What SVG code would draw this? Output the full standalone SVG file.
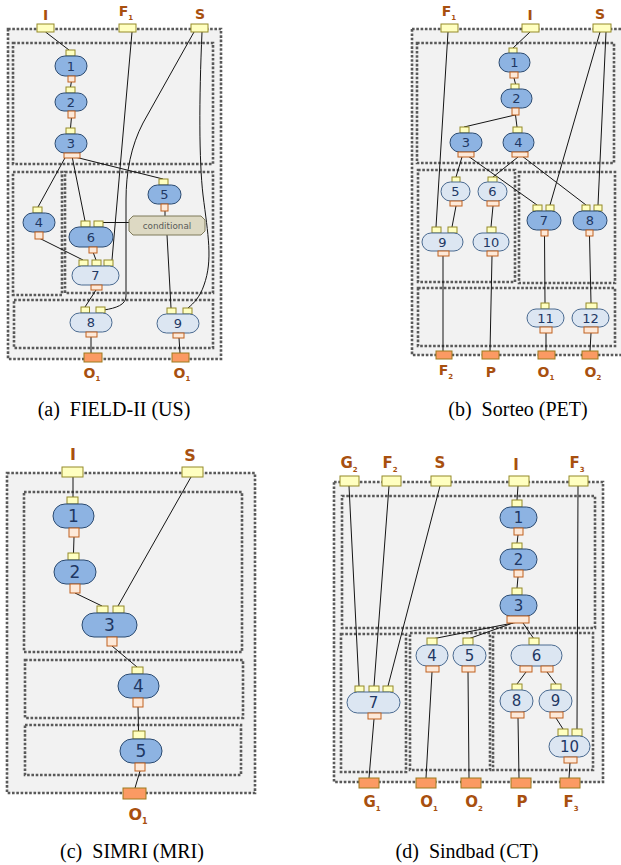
<svg xmlns="http://www.w3.org/2000/svg" width="621" height="865" viewBox="0 0 621 865">
<style>
.box{fill:#f2f2f2;stroke:#595959;stroke-width:2.6;stroke-dasharray:2.6 1.7}
.dk{fill:#8db3e2;stroke:#2b4a70;stroke-width:1}
.lt{fill:#dce6f2;stroke:#4a6a90;stroke-width:1}
.ip{fill:#ffffc0;stroke:#948a28;stroke-width:1}
.op{fill:#fde9d9;stroke:#c0601f;stroke-width:1}
.fo{fill:#fb9a63;stroke:#9c7a1e;stroke-width:1}
.cond{fill:#ddd9c3;stroke:#7f7a5a;stroke-width:1}
.n{font-family:"DejaVu Sans",sans-serif;fill:#1f3864;text-anchor:middle}
.a{font-size:13px}.c{font-size:17px}.d{font-size:15px}
.lb{font-family:"DejaVu Sans",sans-serif;font-weight:bold;fill:#a8500f;text-anchor:middle}
.la{font-size:14px}.lc{font-size:16px}.ld{font-size:15px}
.sub{font-size:7px}.subc{font-size:8px}
.cap{font-family:"Liberation Serif",serif;font-size:20px;fill:#000;text-anchor:middle}
.ln line,.ln path{stroke:#151515;stroke-width:1;fill:none}
</style>

<!-- Panel (a) boxes -->
<g id="a-boxes">
<rect class="box" x="8" y="29" width="213" height="330"/>
<rect class="box" x="13" y="43" width="200" height="121"/>
<rect class="box" x="13" y="172" width="49" height="123"/>
<rect class="box" x="65" y="172" width="148" height="121"/>
<rect class="box" x="14" y="300" width="199" height="48"/>
</g>
<!-- Panel (b) boxes -->
<g id="b-boxes">
<rect class="box" x="412" y="29" width="215" height="326"/>
<rect class="box" x="417" y="43" width="197" height="120"/>
<rect class="box" x="418" y="170" width="97" height="112"/>
<rect class="box" x="519" y="172" width="96" height="111"/>
<rect class="box" x="418" y="288" width="197" height="58"/>
</g>
<!-- Panel (c) boxes -->
<g id="c-boxes">
<rect class="box" x="7" y="473" width="248" height="320"/>
<rect class="box" x="24" y="492" width="218" height="160"/>
<rect class="box" x="25" y="660" width="218" height="58"/>
<rect class="box" x="25" y="725" width="216" height="50"/>
</g>
<!-- Panel (d) boxes -->
<g id="d-boxes">
<rect class="box" x="334" y="482" width="269" height="300"/>
<rect class="box" x="342" y="496" width="253" height="132"/>
<rect class="box" x="341" y="634" width="65" height="138"/>
<rect class="box" x="410" y="633" width="80" height="137"/>
<rect class="box" x="493" y="633" width="100" height="137"/>
</g>

<!-- Connectors -->
<g id="connectors" class="ln">
<!-- a -->
<line x1="45.5" y1="32" x2="69" y2="50"/>
<line x1="71.5" y1="81" x2="70.5" y2="87"/>
<line x1="71.5" y1="117" x2="70.5" y2="128"/>
<line x1="71" y1="156" x2="163" y2="179"/>
<line x1="66" y1="156" x2="38" y2="207"/>
<line x1="72" y1="156" x2="85" y2="221"/>
<line x1="39" y1="238" x2="83" y2="260"/>
<line x1="93" y1="252" x2="96" y2="260"/>
<line x1="132" y1="32" x2="112" y2="260"/>
<path d="M194,32 L143,123 C131,146 126,172 126,200 L126,296 C126,305 116,308 104,310"/>
<path d="M202,32 C199,100 199,160 203,195 C208,235 213,260 204,285 C200,297 194,303 188,308"/>
<line x1="103" y1="222.5" x2="129" y2="222.5"/>
<line x1="165" y1="210" x2="165" y2="216"/>
<line x1="167" y1="235" x2="171" y2="308"/>
<line x1="96" y1="290" x2="85" y2="307"/>
<line x1="91" y1="337" x2="91" y2="353"/>
<line x1="179" y1="338" x2="180" y2="353"/>
<!-- b -->
<line x1="530" y1="32" x2="513" y2="48"/>
<line x1="514" y1="78" x2="515.5" y2="84"/>
<line x1="515" y1="115" x2="464" y2="127"/>
<line x1="515.5" y1="115" x2="517" y2="127"/>
<line x1="462" y1="157" x2="456" y2="177"/>
<line x1="468" y1="156" x2="537" y2="205"/>
<line x1="518" y1="157" x2="493" y2="177"/>
<line x1="522" y1="156" x2="586" y2="205"/>
<line x1="600" y1="32" x2="550" y2="205"/>
<line x1="606" y1="32" x2="598" y2="205"/>
<line x1="448" y1="32" x2="436" y2="227"/>
<line x1="456" y1="206" x2="452" y2="227"/>
<line x1="493" y1="206" x2="491" y2="227"/>
<line x1="443" y1="256" x2="443" y2="351"/>
<line x1="492" y1="256" x2="490" y2="351"/>
<line x1="544.5" y1="236" x2="545" y2="303"/>
<line x1="589.5" y1="236" x2="591" y2="303"/>
<line x1="546" y1="333" x2="546" y2="351"/>
<line x1="591" y1="333" x2="590" y2="351"/>
<!-- c -->
<line x1="73" y1="477" x2="73" y2="497"/>
<line x1="74" y1="537" x2="73.5" y2="553"/>
<line x1="75" y1="593" x2="102" y2="606"/>
<line x1="191" y1="477" x2="118" y2="606"/>
<line x1="112" y1="646" x2="137" y2="667"/>
<line x1="138" y1="707" x2="138.5" y2="731"/>
<line x1="140" y1="771" x2="135" y2="788"/>
<!-- d -->
<line x1="349" y1="486" x2="359" y2="686"/>
<line x1="389" y1="486" x2="374" y2="686"/>
<line x1="440" y1="486" x2="388" y2="686"/>
<line x1="518" y1="486" x2="517" y2="500"/>
<line x1="518" y1="535" x2="517" y2="543"/>
<line x1="518" y1="577" x2="517" y2="588"/>
<line x1="518" y1="622" x2="432" y2="639"/>
<line x1="513" y1="623" x2="468" y2="639"/>
<line x1="523" y1="623" x2="534" y2="639"/>
<line x1="578" y1="486" x2="577" y2="729"/>
<line x1="526" y1="672" x2="517" y2="684"/>
<line x1="547" y1="672" x2="556" y2="684"/>
<line x1="556" y1="718" x2="563" y2="729"/>
<line x1="374" y1="719" x2="369" y2="778"/>
<line x1="432" y1="672" x2="426" y2="778"/>
<line x1="468" y1="672" x2="469" y2="778"/>
<line x1="518" y1="718" x2="519" y2="778"/>
<line x1="570" y1="763" x2="569" y2="778"/>
</g>

<!-- ===== Panel (a) nodes ===== -->
<g id="a-in-I"><rect class="ip" x="37" y="24" width="17" height="8"/><text class="lb la" x="45.5" y="20">I</text></g>
<g id="a-in-F1"><rect class="ip" x="119" y="24" width="17" height="8"/><text class="lb la" x="126" y="16">F<tspan class="sub" dy="4">1</tspan></text></g>
<g id="a-in-S"><rect class="ip" x="191" y="24" width="17" height="8"/><text class="lb la" x="200" y="19">S</text></g>
<g id="a-1"><rect class="ip" x="66" y="50" width="9" height="6"/><rect class="dk" x="55" y="56" width="32" height="20" rx="10"/><rect class="op" x="68" y="76" width="7" height="6"/><text class="n a" x="71" y="70.7">1</text></g>
<g id="a-2"><rect class="ip" x="66" y="87" width="9" height="6"/><rect class="dk" x="55" y="93" width="32" height="18" rx="9"/><rect class="op" x="68" y="111" width="7" height="7"/><text class="n a" x="71" y="106.7">2</text></g>
<g id="a-3"><rect class="ip" x="66" y="128" width="9" height="6"/><rect class="dk" x="55" y="134" width="32" height="19" rx="9.5"/><rect class="op" x="64" y="153" width="16" height="5"/><text class="n a" x="71" y="148.2">3</text></g>
<g id="a-5"><rect class="ip" x="159" y="179" width="9" height="6"/><rect class="dk" x="148" y="185" width="33" height="19" rx="9.5"/><rect class="op" x="161" y="204" width="7" height="7"/><text class="n a" x="164.5" y="199.2">5</text></g>
<g id="a-4"><rect class="ip" x="33" y="207" width="9" height="6"/><rect class="dk" x="23" y="213" width="32" height="19" rx="9.5"/><rect class="op" x="35" y="232" width="8" height="7"/><text class="n a" x="39" y="227.2">4</text></g>
<g id="a-6"><rect class="ip" x="81" y="221" width="9" height="6"/><rect class="ip" x="94" y="221" width="9" height="6"/><rect class="dk" x="69" y="227" width="44" height="20" rx="10"/><rect class="op" x="89" y="247" width="8" height="6"/><text class="n a" x="91" y="241.7">6</text></g>
<g id="a-cond"><polygon class="cond" points="133,216 201,216 205,220 205,231 201,235 133,235 129,231 129,220"/><text x="167" y="228.8" font-family="DejaVu Sans,sans-serif" font-size="8.8" fill="#595959" text-anchor="middle">conditional</text></g>
<g id="a-7"><rect class="ip" x="79" y="260" width="9" height="6"/><rect class="ip" x="92" y="260" width="9" height="6"/><rect class="ip" x="104" y="260" width="9" height="6"/><rect class="lt" x="72" y="266" width="47" height="19" rx="9.5"/><rect class="op" x="91" y="285" width="11" height="5"/><text class="n a" x="95.5" y="280.2">7</text></g>
<g id="a-8"><rect class="ip" x="81" y="307" width="8.5" height="6"/><rect class="ip" x="96" y="307" width="9" height="6"/><rect class="lt" x="70" y="313" width="42" height="19" rx="9.5"/><rect class="op" x="86" y="332" width="11" height="5"/><text class="n a" x="91" y="327.2">8</text></g>
<g id="a-9"><rect class="ip" x="167" y="308" width="9" height="6"/><rect class="ip" x="183" y="308" width="9" height="6"/><rect class="lt" x="157" y="314" width="42" height="19" rx="9.5"/><rect class="op" x="173" y="333" width="11" height="5"/><text class="n a" x="178" y="328.2">9</text></g>
<g id="a-out-O1a"><rect class="fo" x="84" y="353" width="18" height="9"/><text class="lb la" x="92" y="378">O<tspan class="sub" dy="3">1</tspan></text></g>
<g id="a-out-O1b"><rect class="fo" x="172" y="353" width="17" height="9"/><text class="lb la" x="182" y="378">O<tspan class="sub" dy="3">1</tspan></text></g>
<text class="cap" x="114" y="416" xml:space="preserve">(a)  FIELD-II (US)</text>

<!-- ===== Panel (b) nodes ===== -->
<g id="b-in-F1"><rect class="ip" x="441" y="24" width="17" height="8"/><text class="lb la" x="449" y="16">F<tspan class="sub" dy="4">1</tspan></text></g>
<g id="b-in-I"><rect class="ip" x="522" y="24" width="17" height="8"/><text class="lb la" x="530" y="20">I</text></g>
<g id="b-in-S"><rect class="ip" x="593" y="24" width="18" height="8"/><text class="lb la" x="600" y="19">S</text></g>
<g id="b-1"><rect class="ip" x="509" y="48" width="8" height="5.5"/><rect class="dk" x="499" y="53" width="31" height="19" rx="9.5"/><rect class="op" x="510" y="72" width="8" height="6"/><text class="n a" x="514.5" y="67.2">1</text></g>
<g id="b-2"><rect class="ip" x="511" y="84" width="8" height="6"/><rect class="dk" x="501" y="89" width="31" height="19" rx="9.5"/><rect class="op" x="512" y="108" width="7" height="7"/><text class="n a" x="516.5" y="103.2">2</text></g>
<g id="b-3"><rect class="ip" x="460" y="127" width="9" height="6"/><rect class="dk" x="450" y="133" width="32" height="19" rx="9.5"/><rect class="op" x="458" y="152" width="16" height="5"/><text class="n a" x="466" y="147.2">3</text></g>
<g id="b-4"><rect class="ip" x="513" y="127" width="9" height="6"/><rect class="dk" x="503" y="133" width="31" height="19" rx="9.5"/><rect class="op" x="512" y="152" width="16" height="5"/><text class="n a" x="518.5" y="147.2">4</text></g>
<g id="b-5"><rect class="ip" x="452" y="177" width="8" height="6"/><rect class="lt" x="441" y="182" width="29" height="19" rx="9.5"/><rect class="op" x="450" y="201" width="12" height="5"/><text class="n a" x="455.5" y="196.2">5</text></g>
<g id="b-6"><rect class="ip" x="488" y="177" width="9" height="6"/><rect class="lt" x="478" y="182" width="29" height="19" rx="9.5"/><rect class="op" x="487" y="201" width="12" height="5"/><text class="n a" x="492.5" y="196.2">6</text></g>
<g id="b-7"><rect class="ip" x="533" y="205" width="9" height="6"/><rect class="ip" x="546" y="205" width="8" height="6"/><rect class="dk" x="527" y="211" width="34" height="19" rx="9.5"/><rect class="op" x="541" y="230" width="7" height="6"/><text class="n a" x="544" y="225.2">7</text></g>
<g id="b-8"><rect class="ip" x="582" y="205" width="8" height="6"/><rect class="ip" x="594" y="205" width="8" height="6"/><rect class="dk" x="573" y="211" width="34" height="19" rx="9.5"/><rect class="op" x="586" y="230" width="7" height="6"/><text class="n a" x="590" y="225.2">8</text></g>
<g id="b-9"><rect class="ip" x="432" y="227" width="9" height="6"/><rect class="ip" x="448" y="227" width="9" height="6"/><rect class="lt" x="422" y="233" width="41" height="18" rx="9"/><rect class="op" x="438" y="251" width="11" height="5"/><text class="n a" x="442.5" y="246.7">9</text></g>
<g id="b-10"><rect class="ip" x="487" y="227" width="9" height="6"/><rect class="lt" x="473" y="233" width="36" height="18" rx="9"/><rect class="op" x="487" y="251" width="11" height="5"/><text class="n a" x="491" y="246.7">10</text></g>
<g id="b-11"><rect class="ip" x="541" y="303" width="8" height="6"/><rect class="lt" x="527" y="309" width="37" height="18" rx="9"/><rect class="op" x="540" y="327" width="12" height="6"/><text class="n a" x="545.5" y="322.7">11</text></g>
<g id="b-12"><rect class="ip" x="586" y="303" width="11" height="6"/><rect class="lt" x="572" y="309" width="37" height="18" rx="9"/><rect class="op" x="584" y="327" width="14" height="6"/><text class="n a" x="590.5" y="322.7">12</text></g>
<g id="b-out-F2"><rect class="fo" x="436" y="351" width="16" height="8"/><text class="lb la" x="446" y="375">F<tspan class="sub" dy="4">2</tspan></text></g>
<g id="b-out-P"><rect class="fo" x="482" y="351" width="17" height="8"/><text class="lb la" x="491" y="377">P</text></g>
<g id="b-out-O1"><rect class="fo" x="538" y="351" width="17" height="8"/><text class="lb la" x="546" y="377">O<tspan class="sub" dy="3">1</tspan></text></g>
<g id="b-out-O2"><rect class="fo" x="582" y="351" width="16" height="8"/><text class="lb la" x="593" y="377">O<tspan class="sub" dy="3">2</tspan></text></g>
<text class="cap" x="518" y="416" xml:space="preserve">(b)  Sorteo (PET)</text>

<!-- ===== Panel (c) nodes ===== -->
<g id="c-in-I"><rect class="ip" x="62" y="467" width="21" height="10"/><text class="lb lc" x="73" y="460">I</text></g>
<g id="c-in-S"><rect class="ip" x="182" y="467" width="21" height="10"/><text class="lb lc" x="190" y="461">S</text></g>
<g id="c-1"><rect class="ip" x="67" y="497" width="11" height="7"/><rect class="dk" x="53" y="504" width="41" height="24" rx="12"/><rect class="op" x="69" y="528" width="10" height="9"/><text class="n c" x="73.5" y="522">1</text></g>
<g id="c-2"><rect class="ip" x="68" y="553" width="11" height="7"/><rect class="dk" x="54" y="560" width="42" height="24" rx="12"/><rect class="op" x="70" y="584" width="10" height="9"/><text class="n c" x="75" y="578">2</text></g>
<g id="c-3"><rect class="ip" x="97" y="606" width="11" height="7"/><rect class="ip" x="113" y="606" width="11" height="7"/><rect class="dk" x="82" y="613" width="55" height="24" rx="12"/><rect class="op" x="107" y="637" width="10" height="9"/><text class="n c" x="109.5" y="631">3</text></g>
<g id="c-4"><rect class="ip" x="132" y="667" width="11" height="7"/><rect class="dk" x="118" y="674" width="41" height="24" rx="12"/><rect class="op" x="133" y="698" width="10" height="9"/><text class="n c" x="138.5" y="692">4</text></g>
<g id="c-5"><rect class="ip" x="133" y="731" width="12" height="8"/><rect class="dk" x="120" y="739" width="42" height="24" rx="12"/><rect class="op" x="135" y="763" width="10" height="8"/><text class="n c" x="141" y="757">5</text></g>
<g id="c-out-O1"><rect class="fo" x="123" y="788" width="23" height="11"/><text class="lb lc" x="138" y="820">O<tspan class="subc" dy="4">1</tspan></text></g>
<text class="cap" x="132" y="858" xml:space="preserve">(c)  SIMRI (MRI)</text>

<!-- ===== Panel (d) nodes ===== -->
<g id="d-in-G2"><rect class="ip" x="340" y="476" width="19" height="10"/><text class="lb ld" x="349" y="468">G<tspan class="sub" dy="4">2</tspan></text></g>
<g id="d-in-F2"><rect class="ip" x="382" y="476" width="19" height="10"/><text class="lb ld" x="390" y="468">F<tspan class="sub" dy="4">2</tspan></text></g>
<g id="d-in-S"><rect class="ip" x="431" y="476" width="20" height="10"/><text class="lb ld" x="440" y="468">S</text></g>
<g id="d-in-I"><rect class="ip" x="509" y="476" width="20" height="10"/><text class="lb ld" x="516" y="470">I</text></g>
<g id="d-in-F3"><rect class="ip" x="569" y="476" width="19" height="10"/><text class="lb ld" x="577" y="468">F<tspan class="sub" dy="4">3</tspan></text></g>
<g id="d-1"><rect class="ip" x="512" y="500" width="10" height="7"/><rect class="dk" x="500" y="507" width="37" height="21" rx="10.5"/><rect class="op" x="514" y="528" width="9" height="7"/><text class="n d" x="518.5" y="523">1</text></g>
<g id="d-2"><rect class="ip" x="512" y="543" width="10" height="6"/><rect class="dk" x="500" y="549" width="37" height="21" rx="10.5"/><rect class="op" x="514" y="570" width="9" height="7"/><text class="n d" x="518.5" y="565">2</text></g>
<g id="d-3"><rect class="ip" x="512" y="588" width="10" height="7"/><rect class="dk" x="500" y="595" width="37" height="21" rx="10.5"/><rect class="op" x="507" y="616" width="22" height="7"/><text class="n d" x="518.5" y="611">3</text></g>
<g id="d-4"><rect class="ip" x="427" y="638" width="10" height="7"/><rect class="lt" x="416" y="645" width="32" height="21" rx="10.5"/><rect class="op" x="426" y="666" width="13" height="6"/><text class="n d" x="432" y="661">4</text></g>
<g id="d-5"><rect class="ip" x="463" y="638" width="10" height="7"/><rect class="lt" x="453" y="645" width="33" height="21" rx="10.5"/><rect class="op" x="462" y="666" width="13" height="6"/><text class="n d" x="469.5" y="661">5</text></g>
<g id="d-6"><rect class="ip" x="529" y="638" width="10" height="7"/><rect class="lt" x="511" y="645" width="51" height="21" rx="10.5"/><rect class="op" x="520" y="666" width="12" height="6"/><rect class="op" x="541" y="666" width="12" height="6"/><text class="n d" x="536.5" y="661">6</text></g>
<g id="d-7"><rect class="ip" x="355" y="686" width="9" height="6"/><rect class="ip" x="369" y="686" width="10" height="6"/><rect class="ip" x="383" y="686" width="10" height="6"/><rect class="lt" x="347" y="692" width="53" height="21" rx="10.5"/><rect class="op" x="368" y="713" width="13" height="6"/><text class="n d" x="373.5" y="708">7</text></g>
<g id="d-8"><rect class="ip" x="512" y="684" width="10" height="7"/><rect class="lt" x="500" y="690" width="33" height="22" rx="11"/><rect class="op" x="511" y="712" width="13" height="6"/><text class="n d" x="516.5" y="706.4">8</text></g>
<g id="d-9"><rect class="ip" x="551" y="684" width="10" height="7"/><rect class="lt" x="539" y="690" width="33" height="22" rx="11"/><rect class="op" x="550" y="712" width="13" height="6"/><text class="n d" x="555.5" y="706.4">9</text></g>
<g id="d-10"><rect class="ip" x="558" y="729" width="10" height="7"/><rect class="ip" x="572" y="729" width="10" height="7"/><rect class="lt" x="549" y="736" width="41" height="21" rx="10.5"/><rect class="op" x="564" y="757" width="13" height="6"/><text class="n d" x="569.5" y="752">10</text></g>
<g id="d-out-G1"><rect class="fo" x="359" y="778" width="20" height="10"/><text class="lb ld" x="372" y="807">G<tspan class="sub" dy="4">1</tspan></text></g>
<g id="d-out-O1"><rect class="fo" x="416" y="778" width="20" height="10"/><text class="lb ld" x="429" y="807">O<tspan class="sub" dy="4">1</tspan></text></g>
<g id="d-out-O2"><rect class="fo" x="461" y="778" width="20" height="10"/><text class="lb ld" x="474" y="807">O<tspan class="sub" dy="4">2</tspan></text></g>
<g id="d-out-P"><rect class="fo" x="511" y="778" width="20" height="10"/><text class="lb ld" x="522" y="807">P</text></g>
<g id="d-out-F3"><rect class="fo" x="560" y="778" width="20" height="10"/><text class="lb ld" x="571" y="807">F<tspan class="sub" dy="4">3</tspan></text></g>
<text class="cap" x="467" y="858" xml:space="preserve">(d)  Sindbad (CT)</text>
</svg>
